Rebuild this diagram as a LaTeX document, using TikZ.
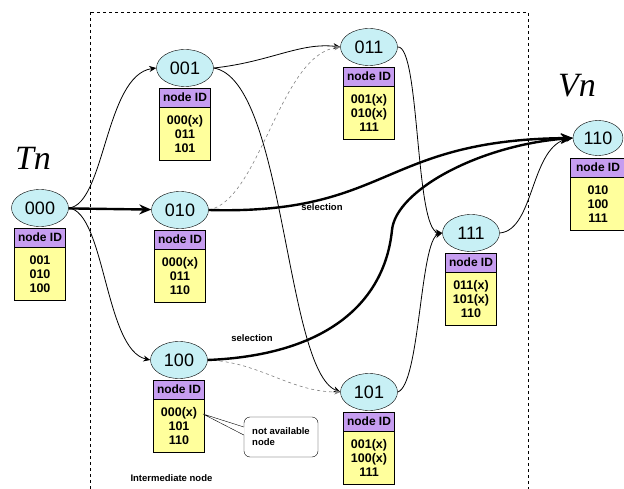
\documentclass[tikz,border=0pt]{standalone}
\usepackage{fontspec}
\setmainfont{Liberation Sans}
\newfontfamily\labelserif{Liberation Serif}
\usetikzlibrary{shapes.geometric, arrows.meta, positioning}

\definecolor{peercyan}{HTML}{C8F0F5}
\definecolor{headpurple}{HTML}{C69DF0}
\definecolor{listyellow}{HTML}{FFFF9C}

\begin{document}
\begin{tikzpicture}[x=1pt, y=-1pt,
    peer/.style={ellipse, draw, fill=peercyan, minimum width=57pt, minimum height=37pt, inner sep=0pt, font=\fontsize{18}{18}\selectfont},
    idhead/.style={rectangle, draw, fill=headpurple, minimum width=51pt, minimum height=19pt, inner sep=0pt, font=\bfseries\fontsize{12}{12}\selectfont},
    idlist/.style={rectangle, draw, fill=listyellow, minimum width=51pt, minimum height=53pt, inner sep=1pt, align=center, font=\bfseries\fontsize{12.5}{14}\selectfont},
    link/.style={-{Stealth[length=7pt,width=6pt]}, line width=0.8pt},
    maybe/.style={-{Stealth[length=6pt,width=5pt]}, dashed, gray, line width=0.6pt},
    chosen/.style={-{Stealth[length=12pt,width=10pt]}, line width=2.4pt},
    tag/.style={font=\bfseries\fontsize{9.5}{9.5}\selectfont},
    bigname/.style={font=\labelserif\itshape\fontsize{34}{34}\selectfont}
  ]
    \useasboundingbox (0,0) rectangle (624,489);

    % intermediate area
    \draw[dashed, line width=0.6pt] (90,12) rectangle (528,500);
    \node[anchor=west, font=\bfseries\fontsize{9.5}{9.5}\selectfont] (inter) at (127,478) {Intermediate node};

    % peers and their tables
    \node[peer] (n000) at (40,208) {000};
    \node[idhead, below=1pt of n000] (h000) {node ID};
    \node[idlist, below=0pt of h000] (l000) {001\\010\\100};

    \node[peer] (n001) at (185,68) {001};
    \node[idhead, below=1pt of n001] (h001) {node ID};
    \node[idlist, below=0pt of h001] (l001) {000(x)\\011\\101};

    \node[peer] (n010) at (180,210) {010};
    \node[idhead, below=1pt of n010] (h010) {node ID};
    \node[idlist, below=0pt of h010] (l010) {000(x)\\011\\110};

    \node[peer] (n100) at (179,360) {100};
    \node[idhead, below=1pt of n100] (h100) {node ID};
    \node[idlist, below=0pt of h100] (l100) {000(x)\\101\\110};

    \node[peer] (n011) at (369,47) {011};
    \node[idhead, below=1pt of n011] (h011) {node ID};
    \node[idlist, below=0pt of h011] (l011) {001(x)\\010(x)\\111};

    \node[peer] (n101) at (369,392) {101};
    \node[idhead, below=1pt of n101] (h101) {node ID};
    \node[idlist, below=0pt of h101] (l101) {001(x)\\100(x)\\111};

    \node[peer] (n111) at (471,233) {111};
    \node[idhead, below=1pt of n111] (h111) {node ID};
    \node[idlist, below=0pt of h111] (l111) {011(x)\\101(x)\\110};

    \node[peer, minimum width=50pt, minimum height=35pt] (n110) at (598,138) {110};
    \node[idhead, minimum width=56pt, below=2pt of n110] (h110) {node ID};
    \node[idlist, minimum width=56pt, below=0pt of h110] (l110) {010\\100\\111};

    \node[bigname] (tn) at (33,158) {Tn};
    \node[bigname] (vn) at (577,86) {Vn};

    % connectors
    \draw[link] (n000.east) .. controls (105,205) and (105,75) .. (n001.west);
    \draw[chosen] (n000) -- (n010);
    \draw[link] (n000.east) .. controls (105,212) and (105,350) .. (n100.west);
    \draw[link] (n001.east) .. controls (270,62) and (300,42) .. (n011.west);
    \draw[link] (n001.east) .. controls (285,80) and (285,370) .. (n101.west);
    \draw[maybe] (n010.east) .. controls (260,200) and (280,55) .. (n011.west);
    \draw[maybe] (n100.east) .. controls (260,362) and (290,392) .. (n101.west);
    \draw[link] (n011.east) .. controls (420,45) and (415,230) .. (n111.west);
    \draw[link] (n101.east) .. controls (420,385) and (420,240) .. (n111.west);
    \draw[link] (n111.east) .. controls (535,230) and (530,145) .. (n110.west);
    \draw[chosen] (n010.east) .. controls (390,215) and (380,140) .. (n110.west);
    \draw[chosen] (n100.east) .. controls (330,355) and (385,300) .. (392,230)
        .. controls (396,190) and (480,145) .. (n110.west);

    \node[tag] (sel1) at (322,207) {selection};
    \node[tag] (sel2) at (252,338) {selection};

    % callout
    \node[draw, rounded corners=6pt, fill=white, align=left, minimum width=74pt, minimum height=40pt,
      font=\bfseries\fontsize{9.5}{11}\selectfont] (note) at (281,437) {not available\\node};
    \coordinate (tip) at (203,414);
    \fill[white] ([xshift=0.8pt,yshift=10pt]note.west) -- (tip) -- ([xshift=0.8pt,yshift=2pt]note.west) -- cycle;
    \draw ([yshift=10pt]note.west) -- (tip) -- ([yshift=2pt]note.west);
\end{tikzpicture}
\end{document}
